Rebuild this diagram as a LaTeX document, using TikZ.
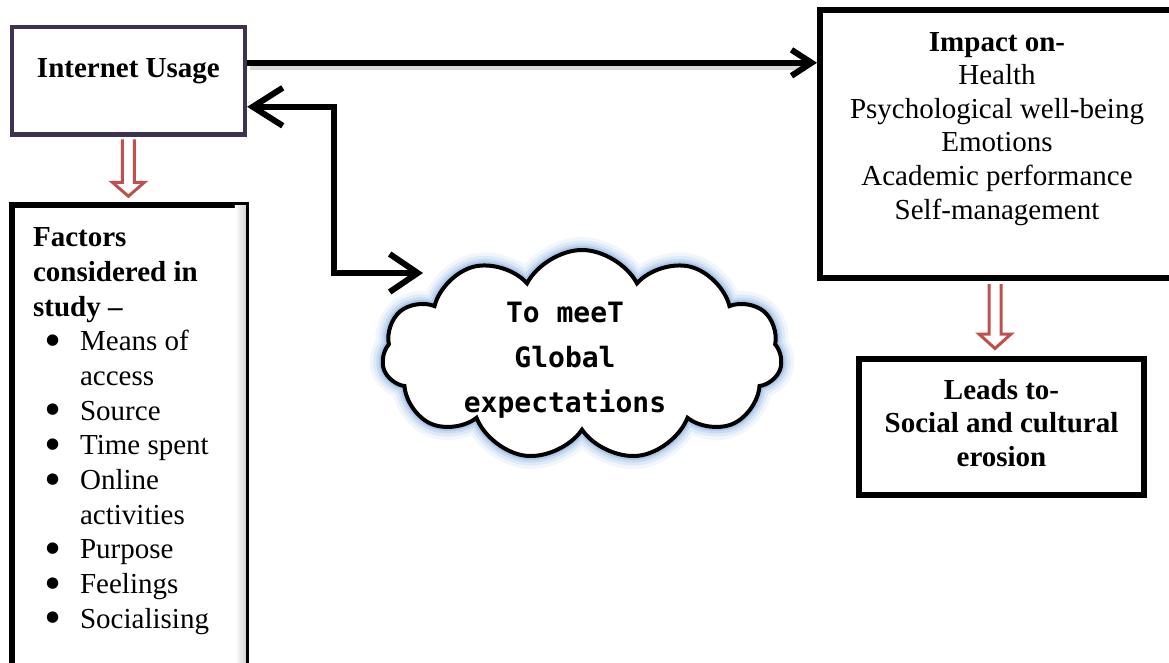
\documentclass[tikz,border=0pt]{standalone}
\usepackage{fontspec}
\setmainfont{Liberation Serif}
\newfontfamily\cloudfont{DejaVu Sans Mono}
\newfontfamily\dotfont{DejaVu Sans}
\usetikzlibrary{arrows.meta, positioning, calc, shapes.symbols}
\definecolor{iupurple}{HTML}{3F3151}
\definecolor{fatred}{HTML}{C0504D}
\definecolor{glowblue}{HTML}{8DB3E2}
\newcommand{\facitem}[1]{\makebox[47pt][l]{\hspace{13pt}\raisebox{6.5pt}{\dotfont\fontsize{15}{15}\selectfont ●}}#1}
\newcommand{\facmore}[1]{\makebox[47pt]{}#1}

\begin{document}
\begin{tikzpicture}[x=1pt, y=-1pt,
    every node/.style = {font=\fontsize{29}{34.7}\selectfont},
    box/.style = {draw, rectangle, line width=6pt, fill=white, inner sep=0pt},
    txt/.style = {inner sep=0pt, align=center},
    link/.style = {line width=6pt},
    hollow/.style = {draw=fatred, fill=white, line width=3pt},
    puff/.style = {cloud, cloud puffs=11, cloud puff arc=125, cloud ignores aspect,
        minimum width=400pt, minimum height=210pt, draw, line width=4pt, fill=white,
        preaction={draw=glowblue!12, line width=26pt},
        preaction={draw=glowblue!28, line width=19pt},
        preaction={draw=glowblue!48, line width=13pt},
        preaction={draw=glowblue!72, line width=8pt}}
    ]
    \useasboundingbox (0,0) rectangle (1169,663);

    % boxes
    \node[box, draw=iupurple, line width=4.5pt, minimum width=233pt, minimum height=107.5pt] (iu) at (128.4,80.8) {};
    \node[txt, below=34pt of iu.north, font=\fontsize{29}{34.7}\bfseries] (iutxt) {Internet Usage};

    \node[box, minimum width=234pt, minimum height=490pt] (fac) at (128.9,450) {};
    \shade[left color=white, right color=gray!35] ($(fac.north east)+(-14,3)$) rectangle ($(fac.south east)+(-3,0)$);
    \node[txt, align=left, below right=25.5pt and 24pt of fac.north west] (factxt)
        {\textbf{Factors}\\\textbf{considered in}\\\textbf{study –}\\
         \facitem{Means of}\\\facmore{access}\\\facitem{Source}\\\facitem{Time spent}\\
         \facitem{Online}\\\facmore{activities}\\\facitem{Purpose}\\\facitem{Feelings}\\
         \facitem{Socialising}};

    \node[box, minimum width=354pt, minimum height=268pt] (impact) at (997,144) {};
    \node[txt, below=25pt of impact.north, font=\fontsize{29}{33.6}\selectfont] (impacttxt)
        {\textbf{Impact on-}\\Health\\Psychological well-being\\Emotions\\Academic performance\\Self-management};

    \node[box, minimum width=285pt, minimum height=136pt] (leads) at (1001.5,427) {};
    \node[txt, font=\fontsize{29}{33.5}\bfseries] (leadstxt) at ($(leads.center)+(0,-4)$)
        {Leads to-\\Social and cultural\\erosion};

    \node[puff] (cloud) at (582,355) {};
    \node[txt, font=\cloudfont\bfseries\fontsize{28}{45}\selectfont] (cloudtxt)
        at ($(cloud.center)+(-17,5)$) {To meeT\\Global\\expectations};

    % connectors
    \coordinate (bend) at (334,273);
    \coordinate (cloudin) at (423,273);
    \draw[gray!30, line width=5pt] ($(iu.east)+(3,-13)$) -- ($(iu.east -| impact.west)+(-16,-13)$);
    \draw[link, -{Straight Barb[length=20pt,width=26pt]}] ($(iu.east)+(0,-18)$) -- ($(iu.east -| impact.west)+(0,-18)$);
    \draw[link, {Straight Barb[length=30pt,width=38pt]}-{Straight Barb[length=28pt,width=38pt]}]
        ($(iu.east)+(0,26)$) -| (bend) -- (cloudin);

    \draw[hollow] ($(iu.south)+(-6,2.5)$) -- ++(0,43) -- ++(-10,0) -- ++(16,14) -- ++(16,-14) -- ++(-10,0) -- ++(0,-43);
    \draw[hollow] ($(impact.south)+(-8,3)$) -- ++(0,50) -- ++(-10,0) -- ++(16,14.5) -- ++(16,-14.5) -- ++(-10,0) -- ++(0,-50);
\end{tikzpicture}
\end{document}
